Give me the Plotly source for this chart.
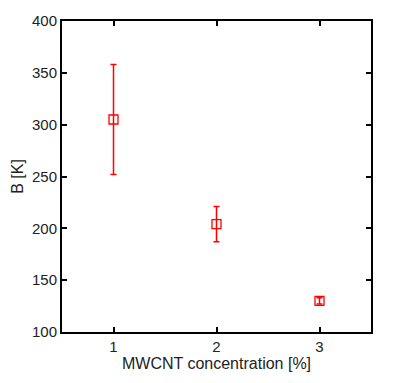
import plotly.graph_objects as go

conc = [1, 2, 3]
B_values = [305, 204, 130]
B_err = [53, 17, 3]
x_ticks = [1, 2, 3]
y_ticks = [100, 150, 200, 250, 300, 350, 400]

FONT = "Liberation Sans, Arial"

fig = go.Figure()
fig.add_trace(go.Scatter(
    x=conc, y=B_values, mode="markers",
    marker=dict(symbol="square-open", size=9, color="#ff0000", line=dict(width=1.3, color="#ff0000")),
    error_y=dict(type="data", array=B_err, visible=True, color="#ff0000", thickness=1.5, width=3),
    showlegend=False,
))

axis_common = dict(
    showline=True, linecolor="black", linewidth=2, mirror="ticks",
    ticks="inside", ticklen=5, tickwidth=2, tickcolor="black",
    showgrid=False, zeroline=False,
    tickfont=dict(family=FONT, size=15, color="#222"),
)
fig.update_xaxes(range=[0.5, 3.5], tickvals=x_ticks,
                 title=dict(text="MWCNT concentration [%]", font=dict(family=FONT, size=16, color="#222"), standoff=2),
                 **axis_common)
fig.update_yaxes(range=[100, 400], tickvals=y_ticks,
                 title=dict(text="B [K]", font=dict(family=FONT, size=16, color="#222"), standoff=4),
                 **axis_common)
fig.update_layout(
    width=398, height=383,
    margin=dict(l=62, r=27, t=15, b=51),
    plot_bgcolor="white", paper_bgcolor="white",
)
fig.write_html("out.html")
